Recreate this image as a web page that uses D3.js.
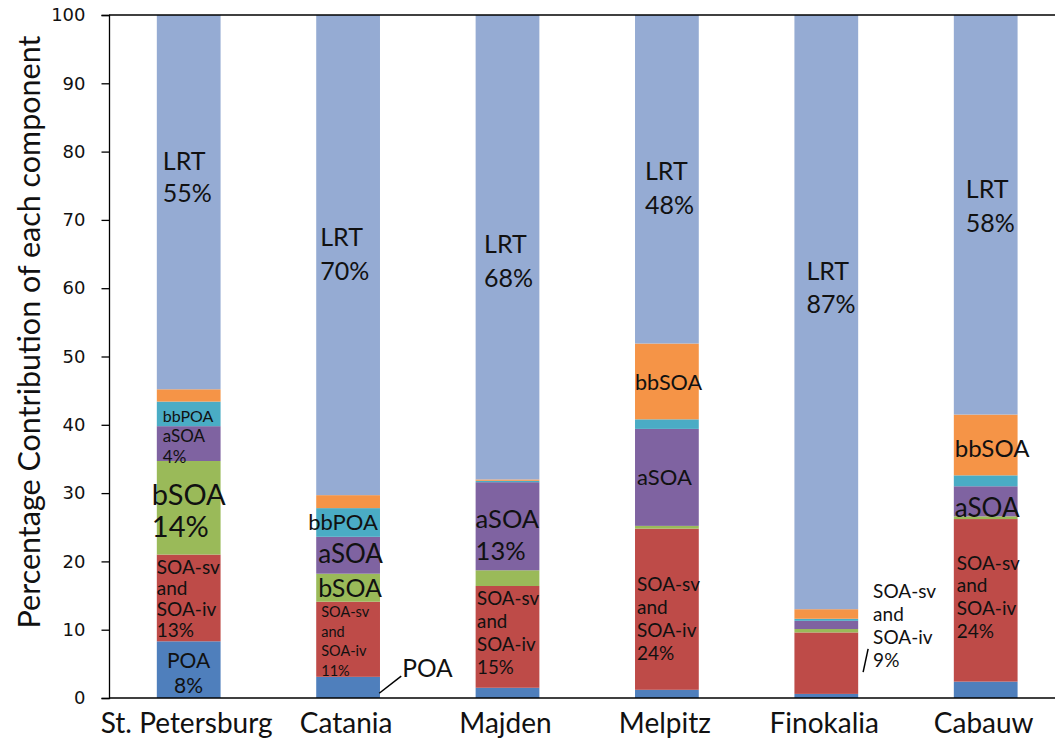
<!DOCTYPE html>
<html lang="en">
  <head>
    <meta charset="utf-8" />
    <title>Percentage contribution of each component</title>
    <script src="https://cdn.jsdelivr.net/npm/d3@7/dist/d3.min.js"></script>
    <style>
      body { margin: 0; background: #fff; }
      text { font-family: Lato, "Open Sans", sans-serif; fill: #111; }
      .tick text { font-family: "DejaVu Sans", sans-serif; }
    </style>
  </head>
  <body>
    <script>
      // sites along the x axis
      var sites = ["St. Petersburg", "Catania", "Majden", "Melpitz", "Finokalia", "Cabauw"];
      // stack order, bottom to top
      var components = ["POA", "SOA-sv and SOA-iv", "bSOA", "aSOA", "bbPOA", "bbSOA", "LRT"];

      // percent contribution per site
      var POA   = [8.3, 3.1, 1.5, 1.2, 0.6, 2.4];
      var SOAsv = [12.7, 11.0, 14.9, 23.6, 9.0, 23.8];
      var bSOA  = [13.7, 4.1, 2.3, 0.4, 0.5, 0.4];
      var aSOA  = [5.1, 5.4, 12.9, 14.2, 1.2, 4.4];
      var bbPOA = [3.6, 4.2, 0.2, 1.4, 0.3, 1.6];
      var bbSOA = [1.8, 1.9, 0.2, 11.1, 1.4, 8.9];
      var LRT   = [54.8, 70.3, 68.0, 48.1, 87.0, 58.5];

      var yTicks = [0, 10, 20, 30, 40, 50, 60, 70, 80, 90, 100];

      var colors = {
        "POA": "#4f7fbc",
        "SOA-sv and SOA-iv": "#be4b48",
        "bSOA": "#9aba59",
        "aSOA": "#7f63a1",
        "bbPOA": "#4aacc5",
        "bbSOA": "#f59447",
        "LRT": "#95abd3"
      };

      // in-bar annotations: site, value of first line centre, lines
      var labels = [
        { site: 0, v: 78.8, lines: ["LRT", "55%"], dx: 6, size: 25, lh: 32 },
        { site: 0, v: 41.3, lines: ["bbPOA"], dx: 6, size: 16 },
        { site: 0, v: 38.5, lines: ["aSOA", "4%"], dx: 6, size: 17, lh: 21 },
        { site: 0, v: 30.0, lines: ["bSOA", "14%"], dx: -5, size: 29, lh: 32 },
        { site: 0, v: 19.3, lines: ["SOA-sv", "and", "SOA-iv", "13%"], dx: 0, size: 19, lh: 21 },
        { site: 0, v: 5.6, lines: ["POA", "8%"], dx: 31.7, size: 21, lh: 25, anchor: "middle" },

        { site: 1, v: 67.6, lines: ["LRT", "70%"], dx: 4, size: 25, lh: 34 },
        { site: 1, v: 25.8, lines: ["bbPOA"], dx: -8, size: 22 },
        { site: 1, v: 21.2, lines: ["aSOA"], dx: 2, size: 26 },
        { site: 1, v: 16.2, lines: ["bSOA"], dx: 2, size: 25 },
        { site: 1, v: 12.6, lines: ["SOA-sv", "and", "SOA-iv", "11%"], dx: 5, size: 14.5, lh: 19.5 },
        { site: 1, v: 4.4, lines: ["POA"], dx: 86, size: 24.5 },

        { site: 2, v: 66.6, lines: ["LRT", "68%"], dx: 8.5, size: 25, lh: 34 },
        { site: 2, v: 26.4, lines: ["aSOA", "13%"], dx: 0, size: 25.5, lh: 32 },
        { site: 2, v: 14.6, lines: ["SOA-sv", "and", "SOA-iv", "15%"], dx: 1.5, size: 18.7, lh: 23 },

        { site: 3, v: 77.3, lines: ["LRT", "48%"], dx: 10, size: 25, lh: 34 },
        { site: 3, v: 46.3, lines: ["bbSOA"], dx: 0, size: 21.6 },
        { site: 3, v: 32.4, lines: ["aSOA"], dx: 2, size: 22 },
        { site: 3, v: 16.8, lines: ["SOA-sv", "and", "SOA-iv", "24%"], dx: 2, size: 19, lh: 23 },

        { site: 4, v: 62.7, lines: ["LRT", "87%"], dx: 12, size: 25, lh: 33 },
        { site: 4, v: 15.8, lines: ["SOA-sv", "and", "SOA-iv", "9%"], dx: 78.7, size: 19, lh: 23 },

        { site: 5, v: 74.7, lines: ["LRT", "58%"], dx: 12, size: 25, lh: 34 },
        { site: 5, v: 36.7, lines: ["bbSOA"], dx: 1, size: 24 },
        { site: 5, v: 28.0, lines: ["aSOA"], dx: 1, size: 26 },
        { site: 5, v: 19.9, lines: ["SOA-sv", "and", "SOA-iv", "24%"], dx: 3, size: 19, lh: 22.7 }
      ];

      // leader lines for labels that sit outside the bar
      var leaders = [
        { site: 1, v1: 0.7, v2: 3.2, dx1: 63, dx2: 85 },
        { site: 4, v1: 3.8, v2: 7.2, dx1: 68.7, dx2: 73.7 }
      ];

      var width = 1055, height = 743;
      var margin = { top: 15, left: 109, bottom: 45 };

      var rows = sites.map(function (s, i) {
        return {
          site: s,
          "POA": POA[i],
          "SOA-sv and SOA-iv": SOAsv[i],
          "bSOA": bSOA[i],
          "aSOA": aSOA[i],
          "bbPOA": bbPOA[i],
          "bbSOA": bbSOA[i],
          "LRT": LRT[i]
        };
      });

      var svg = d3.select("body").append("svg")
        .attr("width", width)
        .attr("height", height);

      var x = d3.scaleBand()
        .domain(sites)
        .range([margin.left, margin.left + 6 * 159.4])
        .paddingInner(0.6)
        .paddingOuter(0.3);

      var y = d3.scaleLinear()
        .domain([0, 100])
        .range([height - margin.bottom, margin.top]);

      var series = d3.stack().keys(components)(rows);

      svg.append("g")
        .selectAll("g")
        .data(series)
        .join("g")
        .attr("fill", function (d) { return colors[d.key]; })
        .selectAll("rect")
        .data(function (d) { return d; })
        .join("rect")
        .attr("x", function (d) { return x(d.data.site); })
        .attr("width", x.bandwidth())
        .attr("y", function (d) { return y(d[1]); })
        .attr("height", function (d) { return y(d[0]) - y(d[1]); });

      // y axis
      var yAxis = svg.append("g")
        .attr("transform", "translate(" + margin.left + ",0)")
        .call(d3.axisLeft(y).tickValues(yTicks).tickSize(7.5).tickPadding(16));
      yAxis.select(".domain").attr("stroke", "#000").attr("stroke-width", 1.3);
      yAxis.selectAll(".tick line").attr("stroke", "#000").attr("stroke-width", 1.3);
      yAxis.selectAll(".tick text").attr("font-size", 18).attr("fill", "#111");

      // frame lines at 0 and 100
      [0, 100].forEach(function (v) {
        svg.append("line")
          .attr("x1", margin.left).attr("x2", width)
          .attr("y1", y(v)).attr("y2", y(v))
          .attr("stroke", "#000").attr("stroke-width", 1.3);
      });

      // x labels
      svg.append("g")
        .selectAll("text")
        .data(sites)
        .join("text")
        .attr("x", function (d) { return x(d) + x.bandwidth() / 2 - 2; })
        .attr("y", height - 21)
        .attr("text-anchor", "middle")
        .attr("dominant-baseline", "central")
        .attr("font-size", 28)
        .text(function (d) { return d; });

      // y title
      svg.append("text")
        .attr("transform", "translate(28," + 332 + ") rotate(-90)")
        .attr("text-anchor", "middle")
        .attr("dominant-baseline", "central")
        .attr("font-size", 30.5)
        .text("Percentage Contribution of each component");

      // in-bar labels
      var lab = svg.append("g")
        .selectAll("text")
        .data(labels)
        .join("text")
        .attr("font-size", function (d) { return d.size; })
        .attr("text-anchor", function (d) { return d.anchor || "start"; });

      lab.selectAll("tspan")
        .data(function (d) {
          return d.lines.map(function (t, i) {
            return { t: t, x: x(sites[d.site]) + d.dx, y: y(d.v) + i * (d.lh || 0) };
          });
        })
        .join("tspan")
        .attr("x", function (d) { return d.x; })
        .attr("y", function (d) { return d.y; })
        .attr("dominant-baseline", "central")
        .text(function (d) { return d.t; });

      svg.append("g")
        .selectAll("line")
        .data(leaders)
        .join("line")
        .attr("x1", function (d) { return x(sites[d.site]) + d.dx1; })
        .attr("x2", function (d) { return x(sites[d.site]) + d.dx2; })
        .attr("y1", function (d) { return y(d.v1); })
        .attr("y2", function (d) { return y(d.v2); })
        .attr("stroke", "#000")
        .attr("stroke-width", 1.5);
    </script>
  </body>
</html>
